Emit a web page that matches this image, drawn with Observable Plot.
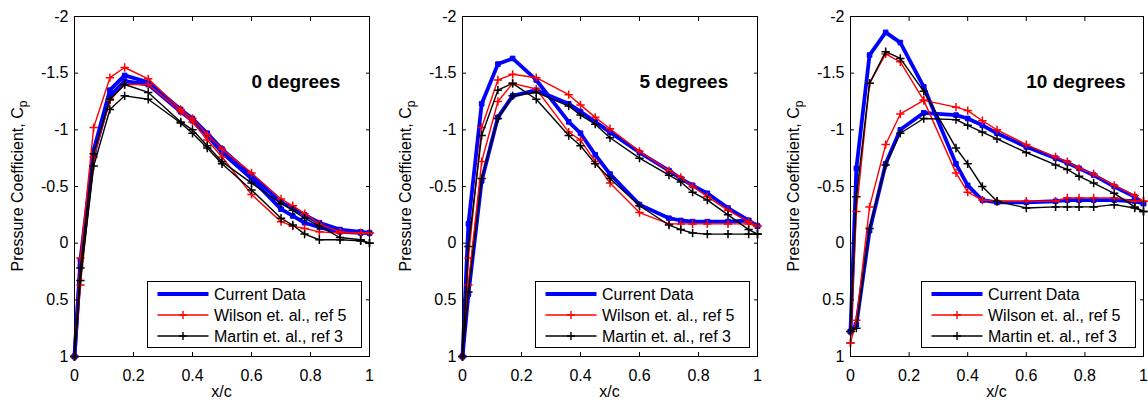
<!DOCTYPE html>
<html>
<head>
<meta charset="utf-8">
<script src="https://cdn.jsdelivr.net/npm/d3@7"></script>
<script src="https://cdn.jsdelivr.net/npm/@observablehq/plot@0.6"></script>
<style>
  html, body { margin: 0; padding: 0; background: #fff; }
  #wrap { display: flex; width: 1148px; height: 400px; overflow: hidden; }
  #wrap > div { flex: none; }
</style>
</head>
<body>
<div id="wrap"></div>
<script>
// ---- Data (Cp vs x/c) ----
const xStations = [0, 0.02, 0.065, 0.12, 0.17, 0.25, 0.36, 0.40, 0.45, 0.50, 0.60, 0.70, 0.74, 0.78, 0.83, 0.90, 0.97, 1.0];
const xTicks = [0, 0.2, 0.4, 0.6, 0.8, 1];
const yTicks = [-2, -1.5, -1, -0.5, 0, 0.5, 1];
const panelLabels = ["0 degrees", "5 degrees", "10 degrees"];
const seriesNames = ["Current Data", "Wilson et. al., ref 5", "Martin et. al., ref 3"];

// 0 degrees
const current0A = [1.0, 0.15, -0.82, -1.35, -1.48, -1.42, -1.18, -1.10, -0.97, -0.83, -0.60, -0.36, -0.31, -0.25, -0.18, -0.12, -0.10, -0.09];
const current0B = [1.0, 0.20, -0.78, -1.30, -1.43, -1.40, -1.16, -1.08, -0.95, -0.80, -0.57, -0.30, -0.24, -0.18, -0.14, -0.10, -0.09, -0.09];
const wilson0A  = [1.0, 0.13, -1.02, -1.46, -1.55, -1.45, -1.18, -1.10, -0.96, -0.83, -0.62, -0.39, -0.33, -0.26, -0.17, -0.10, -0.09, -0.09];
const wilson0B  = [1.0, 0.37, -0.76, -1.26, -1.40, -1.40, -1.16, -1.07, -0.91, -0.76, -0.43, -0.19, -0.15, -0.13, -0.10, -0.09, -0.09, -0.09];
const martin0A  = [1.0, 0.22, -0.79, -1.27, -1.40, -1.33, -1.07, -1.00, -0.86, -0.72, -0.53, -0.35, -0.29, -0.22, -0.15, -0.05, -0.03, 0.0];
const martin0B  = [1.0, 0.33, -0.68, -1.18, -1.30, -1.27, -1.06, -0.97, -0.84, -0.70, -0.47, -0.22, -0.16, -0.08, -0.03, -0.03, -0.02, 0.0];

// 5 degrees
const current5A = [1.0, -0.17, -1.23, -1.58, -1.63, -1.44, -1.07, -0.97, -0.78, -0.61, -0.34, -0.22, -0.20, -0.19, -0.19, -0.19, -0.20, -0.15];
const current5B = [1.0, 0.45, -0.55, -1.11, -1.30, -1.35, -1.23, -1.16, -1.07, -0.98, -0.80, -0.64, -0.57, -0.51, -0.44, -0.31, -0.20, -0.15];
const wilson5A  = [1.0, 0.13, -1.02, -1.44, -1.49, -1.46, -1.31, -1.22, -1.11, -1.01, -0.81, -0.64, -0.58, -0.50, -0.41, -0.29, -0.19, -0.15];
const wilson5B  = [1.0, 0.37, -0.72, -1.25, -1.41, -1.36, -0.98, -0.91, -0.72, -0.53, -0.27, -0.17, -0.17, -0.17, -0.17, -0.17, -0.17, -0.15];
const martin5A  = [1.0, 0.03, -0.95, -1.35, -1.41, -1.27, -0.95, -0.86, -0.70, -0.57, -0.33, -0.16, -0.12, -0.09, -0.08, -0.08, -0.08, -0.08];
const martin5B  = [1.0, 0.43, -0.57, -1.10, -1.30, -1.33, -1.21, -1.13, -1.05, -0.93, -0.75, -0.60, -0.54, -0.45, -0.38, -0.25, -0.12, -0.08];

// 10 degrees
const current10A = [0.78, -0.66, -1.66, -1.86, -1.77, -1.38, -0.70, -0.51, -0.38, -0.36, -0.36, -0.37, -0.38, -0.38, -0.38, -0.38, -0.37, -0.35];
const current10B = [0.78, 0.72, -0.11, -0.70, -1.00, -1.15, -1.13, -1.10, -1.04, -0.97, -0.85, -0.75, -0.71, -0.66, -0.60, -0.50, -0.41, -0.35];
const wilson10A  = [0.88, -0.28, -1.41, -1.67, -1.60, -1.26, -0.62, -0.45, -0.38, -0.37, -0.37, -0.37, -0.40, -0.40, -0.40, -0.40, -0.37, -0.37];
const wilson10B  = [0.88, 0.68, -0.32, -0.87, -1.14, -1.26, -1.20, -1.17, -1.08, -1.00, -0.87, -0.76, -0.72, -0.66, -0.61, -0.51, -0.42, -0.37];
const martin10A  = [0.78, -0.41, -1.41, -1.69, -1.63, -1.34, -0.84, -0.70, -0.50, -0.37, -0.31, -0.32, -0.32, -0.32, -0.32, -0.34, -0.31, -0.28];
const martin10B  = [0.78, 0.75, -0.13, -0.69, -0.97, -1.10, -1.09, -1.04, -0.98, -0.92, -0.80, -0.69, -0.65, -0.59, -0.53, -0.44, -0.32, -0.28];

// ---- Styling ----
const FONT = "'Liberation Sans', Arial, Helvetica, sans-serif";
const seriesStyle = [
  {stroke: "#0000ff", lineWidth: 3.8, symbol: "square", r: 2.6, fill: "#0000ff"},
  {stroke: "#ff0000", lineWidth: 1.4, symbol: "plus", r: 2.8, fill: "none"},
  {stroke: "#000000", lineWidth: 1.4, symbol: "plus", r: 2.8, fill: "none"}
];

const panels = [
  {label: panelLabels[0], width: 388, marginRight: 19, data: [[current0A, current0B], [wilson0A, wilson0B], [martin0A, martin0B]]},
  {label: panelLabels[1], width: 388, marginRight: 19, data: [[current5A, current5B], [wilson5A, wilson5B], [martin5A, martin5B]]},
  {label: panelLabels[2], width: 372, marginRight: 5,  data: [[current10A, current10B], [wilson10A, wilson10B], [martin10A, martin10B]]}
];

const H = 400, ML = 74, MT = 16, MB = 44;
const wrap = document.getElementById("wrap");

panels.forEach((p) => {
  const marks = [];
  p.data.forEach((surfaces, si) => {
    const st = seriesStyle[si];
    const rows = [];
    surfaces.forEach((vals, k) => {
      xStations.forEach((x, i) => rows.push({x, cp: vals[i], key: seriesNames[si] + k}));
    });
    marks.push(Plot.line(rows, {x: "x", y: "cp", z: "key", stroke: st.stroke, strokeWidth: st.lineWidth, strokeLinejoin: "round"}));
    marks.push(Plot.dot(rows, {x: "x", y: "cp", symbol: st.symbol, r: st.r, stroke: st.stroke, fill: st.fill, strokeWidth: si === 0 ? 1 : 1.5}));
  });

  const plotW = p.width - ML - p.marginRight;
  const svg = Plot.plot({
    width: p.width,
    height: H,
    marginLeft: ML,
    marginRight: p.marginRight,
    marginTop: MT,
    marginBottom: MB,
    style: {fontFamily: FONT, fontSize: "16px", background: "#fff", color: "#000", overflow: "visible"},
    x: {domain: [0, 1], label: null},
    y: {domain: [-2, 1], reverse: true, label: null},
    marks: [
      ...marks,
      Plot.text([p.label], {frameAnchor: "top-left", dx: 0.6 * plotW, dy: 58, textAnchor: "start", fontWeight: "bold", fontSize: 19, fill: "#000"}),
      Plot.axisX({anchor: "bottom", ticks: xTicks, tickSize: -4, tickPadding: 17, tickFormat: d => String(d), label: null, fontSize: 16}),
      Plot.axisX({anchor: "top", ticks: xTicks, tickSize: -4, tickFormat: () => "", label: null}),
      Plot.axisY({anchor: "left", ticks: yTicks, tickSize: -4, tickPadding: 10, tickFormat: d => String(d), label: null, fontSize: 16}),
      Plot.axisY({anchor: "right", ticks: yTicks, tickSize: -4, tickFormat: () => "", label: null}),
      Plot.frame({stroke: "#000", strokeWidth: 1})
    ]
  });

  const s = d3.select(svg);
  const R = p.width - p.marginRight, B = H - MB;

  // y axis title with subscript
  const yt = s.append("text")
    .attr("transform", `translate(23,${(MT + B) / 2}) rotate(-90)`)
    .attr("text-anchor", "middle").attr("font-weight", "normal")
    .attr("font-family", FONT).attr("font-size", 16).attr("fill", "#000");
  yt.append("tspan").text("Pressure Coefficient, C");
  yt.append("tspan").attr("font-size", 12).attr("dy", 4).text("p");

  // x axis title
  s.append("text")
    .attr("x", ML + plotW / 2).attr("y", 397)
    .attr("text-anchor", "middle").attr("font-weight", "normal")
    .attr("font-family", FONT).attr("font-size", 16).attr("fill", "#000")
    .text("x/c");

  // legend
  const lg = s.append("g").attr("font-family", FONT).attr("font-size", 16)
    .attr("text-anchor", "start").attr("font-weight", "normal");
  lg.append("rect")
    .attr("x", R - 221.5).attr("y", B - 74.5).attr("width", 214).attr("height", 66)
    .attr("fill", "#fff").attr("stroke", "#000").attr("stroke-width", 1);
  const rowY = [B - 62, B - 41, B - 20];
  seriesNames.forEach((name, i) => {
    const st = seriesStyle[i];
    lg.append("line")
      .attr("x1", R - 211.5).attr("x2", R - 160.5).attr("y1", rowY[i]).attr("y2", rowY[i])
      .attr("stroke", st.stroke).attr("stroke-width", st.lineWidth);
    if (st.symbol === "plus") {
      const cx = R - 186, cy = rowY[i];
      lg.append("path")
        .attr("d", `M${cx - 4},${cy}H${cx + 4}M${cx},${cy - 4}V${cy + 4}`)
        .attr("stroke", st.stroke).attr("stroke-width", 1.4).attr("fill", "none");
    }
    lg.append("text")
      .attr("x", Math.round(R - 155.5)).attr("y", rowY[i] + 6)
      .attr("text-anchor", "start").attr("font-weight", "normal")
      .attr("stroke", "none")
      .attr("fill", "#000").text(name);
  });

  const cell = document.createElement("div");
  cell.style.width = p.width + "px";
  cell.appendChild(svg);
  wrap.appendChild(cell);
});
</script>
</body>
</html>
